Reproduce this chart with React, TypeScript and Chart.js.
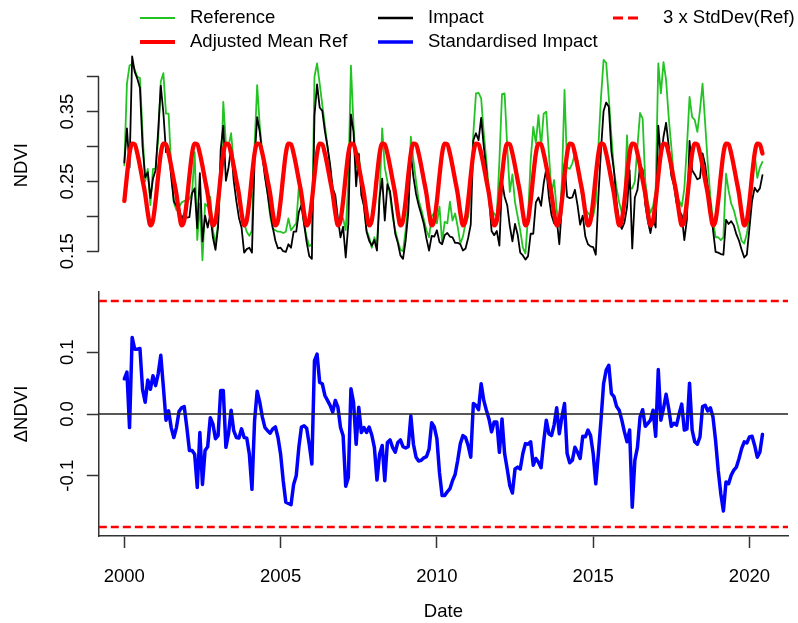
import React, { useEffect, useRef } from "react";
import { Chart, registerables } from "chart.js";

Chart.register(...registerables);

// ---------------- DATA (monthly, starting Jan 2000) ----------------
const START_YEAR = 2000;

const referenceNdvi = [
  0.273, 0.390, 0.416, 0.418, 0.410, 0.400, 0.398, 0.320, 0.250, 0.268, 0.216, 0.268,
  0.268, 0.310, 0.393, 0.405, 0.347, 0.347, 0.270, 0.220, 0.209, 0.213, 0.220, 0.222,
  0.221, 0.225, 0.233, 0.292, 0.166, 0.218, 0.137, 0.218, 0.214, 0.228, 0.180, 0.161,
  0.190, 0.252, 0.364, 0.304, 0.300, 0.319, 0.276, 0.247, 0.220, 0.205, 0.190, 0.178,
  0.172, 0.180, 0.300, 0.388, 0.330, 0.290, 0.260, 0.232, 0.200, 0.182, 0.180, 0.178,
  0.178, 0.176, 0.178, 0.197, 0.180, 0.185, 0.190, 0.242, 0.215, 0.190, 0.170, 0.157,
  0.160, 0.400, 0.419, 0.390, 0.360, 0.330, 0.300, 0.270, 0.235, 0.215, 0.190, 0.195,
  0.197, 0.180, 0.250, 0.416, 0.330, 0.270, 0.290, 0.247, 0.214, 0.180, 0.170, 0.155,
  0.170, 0.160, 0.230, 0.326, 0.270, 0.250, 0.230, 0.200, 0.180, 0.165, 0.152, 0.150,
  0.180, 0.220, 0.314, 0.280, 0.250, 0.223, 0.210, 0.195, 0.180, 0.170, 0.200, 0.205,
  0.190, 0.214, 0.163, 0.192, 0.190, 0.221, 0.194, 0.204, 0.185, 0.161, 0.171, 0.190,
  0.199, 0.237, 0.319, 0.376, 0.377, 0.369, 0.319, 0.280, 0.237, 0.209, 0.204, 0.199,
  0.280, 0.375, 0.376, 0.300, 0.235, 0.260, 0.220, 0.200, 0.180, 0.155, 0.147, 0.200,
  0.280, 0.328, 0.305, 0.345, 0.300, 0.347, 0.350, 0.290, 0.233, 0.252, 0.209, 0.185,
  0.250, 0.381, 0.270, 0.268, 0.276, 0.290, 0.280, 0.247, 0.223, 0.210, 0.205, 0.200,
  0.200, 0.220, 0.300, 0.370, 0.424, 0.420, 0.370, 0.315, 0.265, 0.240, 0.220, 0.205,
  0.220, 0.316, 0.240, 0.240, 0.250, 0.300, 0.348, 0.340, 0.250, 0.220, 0.205, 0.215,
  0.237, 0.419, 0.376, 0.421, 0.395, 0.342, 0.300, 0.256, 0.228, 0.223, 0.214, 0.240,
  0.300, 0.371, 0.342, 0.338, 0.321, 0.352, 0.390, 0.333, 0.276, 0.228, 0.195, 0.170,
  0.170, 0.166, 0.170, 0.261, 0.237, 0.218, 0.209, 0.194, 0.180, 0.165, 0.161, 0.175,
  0.200, 0.245, 0.290, 0.255, 0.270, 0.278,
];

const impactNdvi = [
  0.277, 0.326, 0.270, 0.429, 0.407, 0.397, 0.384, 0.300, 0.256, 0.263, 0.226, 0.254,
  0.266, 0.323, 0.387, 0.348, 0.292, 0.297, 0.256, 0.222, 0.215, 0.212, 0.196, 0.204,
  0.198, 0.199, 0.233, 0.240, 0.183, 0.262, 0.164, 0.201, 0.184, 0.202, 0.170, 0.152,
  0.185, 0.296, 0.330, 0.251, 0.270, 0.298, 0.251, 0.222, 0.198, 0.184, 0.148, 0.153,
  0.155, 0.148, 0.281, 0.342, 0.321, 0.287, 0.256, 0.233, 0.206, 0.184, 0.165, 0.154,
  0.155, 0.150, 0.149, 0.160, 0.155, 0.178, 0.178, 0.206, 0.216, 0.189, 0.163, 0.143,
  0.139, 0.344, 0.389, 0.356, 0.351, 0.322, 0.300, 0.274, 0.240, 0.230, 0.197, 0.170,
  0.185, 0.141, 0.189, 0.346, 0.321, 0.243, 0.289, 0.230, 0.215, 0.178, 0.165, 0.158,
  0.166, 0.151, 0.227, 0.254, 0.194, 0.246, 0.236, 0.206, 0.175, 0.162, 0.144, 0.139,
  0.165, 0.205, 0.289, 0.256, 0.232, 0.216, 0.203, 0.189, 0.168, 0.151, 0.172, 0.171,
  0.180, 0.163, 0.160, 0.173, 0.176, 0.171, 0.170, 0.162, 0.162, 0.160, 0.151, 0.154,
  0.169, 0.188, 0.309, 0.319, 0.309, 0.341, 0.300, 0.266, 0.229, 0.179, 0.173, 0.179,
  0.158, 0.250, 0.228, 0.216, 0.186, 0.164, 0.189, 0.174, 0.148, 0.144, 0.138, 0.143,
  0.175, 0.175, 0.220, 0.227, 0.215, 0.247, 0.268, 0.228, 0.202, 0.190, 0.196, 0.160,
  0.215, 0.275, 0.228, 0.226, 0.227, 0.238, 0.216, 0.188, 0.201, 0.171, 0.160, 0.157,
  0.156, 0.145, 0.228, 0.295, 0.351, 0.363, 0.357, 0.293, 0.265, 0.220, 0.192, 0.182,
  0.191, 0.213, 0.266, 0.154, 0.227, 0.238, 0.273, 0.267, 0.217, 0.193, 0.176, 0.198,
  0.184, 0.330, 0.282, 0.314, 0.334, 0.301, 0.258, 0.245, 0.219, 0.208, 0.202, 0.166,
  0.196, 0.308, 0.266, 0.260, 0.253, 0.255, 0.290, 0.274, 0.242, 0.218, 0.181, 0.149,
  0.148, 0.146, 0.145, 0.195, 0.189, 0.193, 0.187, 0.174, 0.165, 0.152, 0.141, 0.145,
  0.183, 0.222, 0.241, 0.235, 0.240, 0.259,
];

// Adjusted mean of the reference per calendar month (Jan..Dec), repeats every year
const meanRefCycle = [0.222, 0.258, 0.290, 0.304, 0.303, 0.290, 0.272, 0.252, 0.232, 0.205, 0.187, 0.194];

const standardisedImpact = [
  0.057, 0.068, -0.022, 0.124, 0.105, 0.105, 0.106, 0.040, 0.019, 0.055, 0.040, 0.062,
  0.046, 0.065, 0.095, 0.043, -0.010, 0.005, -0.022, -0.038, -0.022, 0.004, 0.010, 0.012,
  -0.022, -0.059, -0.059, -0.065, -0.119, -0.030, -0.114, -0.059, -0.053, -0.006, -0.016, -0.040,
  -0.035, 0.038, 0.038, -0.054, -0.032, 0.006, -0.027, -0.038, -0.039, -0.024, -0.038, -0.039,
  -0.065, -0.122, -0.011, 0.037, 0.019, -0.005, -0.022, -0.027, -0.031, -0.024, -0.021, -0.038,
  -0.065, -0.108, -0.143, -0.145, -0.147, -0.114, -0.100, -0.054, -0.021, -0.019, -0.023, -0.049,
  -0.081, 0.086, 0.097, 0.051, 0.049, 0.030, 0.022, 0.014, 0.003, 0.022, 0.011, -0.022,
  -0.035, -0.117, -0.103, 0.041, 0.019, -0.049, 0.011, -0.030, -0.022, -0.030, -0.021, -0.034,
  -0.054, -0.107, -0.065, -0.051, -0.108, -0.046, -0.042, -0.054, -0.062, -0.046, -0.042, -0.053,
  -0.055, -0.053, -0.003, -0.049, -0.070, -0.076, -0.075, -0.071, -0.069, -0.057, -0.014, -0.021,
  -0.040, -0.095, -0.132, -0.132, -0.126, -0.121, -0.108, -0.098, -0.075, -0.048, -0.035, -0.038,
  -0.051, -0.070, 0.017, 0.014, 0.007, 0.049, 0.022, 0.006, -0.008, -0.029, -0.013, -0.013,
  -0.062, -0.008, -0.064, -0.089, -0.116, -0.128, -0.089, -0.086, -0.089, -0.064, -0.048, -0.049,
  -0.045, -0.083, -0.072, -0.078, -0.087, -0.045, -0.010, -0.032, -0.035, -0.018, 0.010, -0.032,
  -0.005, 0.017, -0.064, -0.079, -0.075, -0.054, -0.062, -0.072, -0.036, -0.037, -0.026, -0.035,
  -0.064, -0.113, -0.064, -0.010, 0.049, 0.071, 0.079, 0.033, 0.028, 0.012, 0.006, -0.010,
  -0.029, -0.045, -0.026, -0.151, -0.075, -0.054, -0.005, 0.007, -0.020, -0.015, -0.010, 0.006,
  -0.036, 0.072, -0.010, 0.009, 0.032, 0.009, -0.020, -0.015, -0.018, 0.000, 0.016, -0.026,
  -0.024, 0.050, -0.026, -0.045, -0.049, -0.037, 0.012, 0.014, 0.005, 0.010, -0.005, -0.043,
  -0.091, -0.129, -0.157, -0.110, -0.113, -0.099, -0.091, -0.086, -0.072, -0.056, -0.045, -0.047,
  -0.037, -0.036, -0.051, -0.070, -0.062, -0.033,
];

const stdDevLimit = 0.183;
const yearTicks = [2000, 2005, 2010, 2015, 2020];
const ndviTicks = [0.15, 0.2, 0.25, 0.3, 0.35, 0.4];
const ndviLabelled = [0.15, 0.25, 0.35];
const deltaTicks = [-0.1, 0, 0.1];

// ---------------- STYLE ----------------
const FONT_FAMILY = "'Liberation Sans', Arial, Helvetica, sans-serif";
const FONT_SIZE = 18.5;
const GREEN = "#22c322";
const RED = "#ff0000";
const BLUE = "#0000ff";
const BLACK = "#000000";
const AXIS = "#333333";

const W = 798;
const TOP_H = 290;
const BOTTOM_H = 333;
const PLOT_LEFT = 98.8;
const PLOT_RIGHT = 788;

const months = standardisedImpact.map((_, i) => START_YEAR + i / 12);
const span = months[months.length - 1] - months[0];
const X_MIN = months[0] - 0.04 * span;
const X_MAX = months[months.length - 1] + 0.04 * span;

const adjustedMeanRef = months.map((_, i) => meanRefCycle[i % 12]);
const toPoints = (vals: number[]) => vals.map((y, i) => ({ x: months[i], y }));

const font = { family: FONT_FAMILY, size: FONT_SIZE };

const legendEntries = [
  { label: "Reference", color: GREEN, width: 2, dash: [] as number[], col: 0, row: 0 },
  { label: "Adjusted Mean Ref", color: RED, width: 4, dash: [] as number[], col: 0, row: 1 },
  { label: "Impact", color: BLACK, width: 2.5, dash: [] as number[], col: 1, row: 0 },
  { label: "Standardised Impact", color: BLUE, width: 3.5, dash: [] as number[], col: 1, row: 1 },
  { label: "3 x StdDev(Ref)", color: RED, width: 3, dash: [10, 5], col: 2, row: 0 },
];
const legendCols = [
  { lineX: 140, lineLen: 35, textX: 190 },
  { lineX: 378, lineLen: 35, textX: 428 },
  { lineX: 613, lineLen: 25, textX: 663 },
];
const legendRows = [18, 42];

const legendPlugin = {
  id: "customLegend",
  afterDraw(chart: any) {
    const ctx = chart.ctx;
    ctx.save();
    legendEntries.forEach((e) => {
      const c = legendCols[e.col];
      const y = legendRows[e.row];
      ctx.beginPath();
      ctx.strokeStyle = e.color;
      ctx.lineWidth = e.width;
      ctx.setLineDash(e.dash);
      ctx.moveTo(c.lineX, y);
      ctx.lineTo(c.lineX + c.lineLen, y);
      ctx.stroke();
      ctx.setLineDash([]);
      ctx.fillStyle = BLACK;
      ctx.font = `${FONT_SIZE}px ${FONT_FAMILY}`;
      ctx.textBaseline = "middle";
      ctx.textAlign = "left";
      ctx.fillText(e.label, c.textX, y);
    });
    ctx.restore();
  },
};

const partialAxisPlugin = {
  id: "partialAxis",
  afterDraw(chart: any) {
    const ys = chart.scales.y;
    const ctx = chart.ctx;
    const x = Math.round(chart.chartArea.left) - 0.5;
    ctx.save();
    ctx.strokeStyle = AXIS;
    ctx.lineWidth = 1.5;
    ctx.beginPath();
    ctx.moveTo(x, ys.getPixelForValue(ndviTicks[0]));
    ctx.lineTo(x, ys.getPixelForValue(ndviTicks[ndviTicks.length - 1]));
    ctx.stroke();
    ctx.restore();
  },
};

const fitWidth = (s: any) => {
  s.width = PLOT_LEFT;
  s.paddingTop = 0;
  s.paddingBottom = 0;
  s.paddingLeft = 0;
  s.paddingRight = 0;
};

function topConfig(): any {
  return {
    type: "line",
    data: {
      datasets: [
        { label: "Reference", data: toPoints(referenceNdvi), borderColor: GREEN, borderWidth: 1.8, order: 3 },
        { label: "Impact", data: toPoints(impactNdvi), borderColor: BLACK, borderWidth: 1.8, order: 2 },
        {
          label: "Adjusted Mean Ref",
          data: toPoints(adjustedMeanRef),
          borderColor: RED,
          borderWidth: 4.3,
          cubicInterpolationMode: "monotone",
          order: 1,
        },
      ],
    },
    options: {
      responsive: false,
      animation: false,
      devicePixelRatio: 1,
      layout: { padding: { left: 0, right: W - PLOT_RIGHT, top: 48.3, bottom: 8 } },
      elements: {
        point: { radius: 0 },
        line: { borderCapStyle: "round", borderJoinStyle: "round", fill: false },
      },
      plugins: { legend: { display: false }, tooltip: { enabled: false } },
      scales: {
        x: { type: "linear", display: false, min: X_MIN, max: X_MAX },
        y: {
          type: "linear",
          position: "left",
          min: 0.1059,
          max: 0.4407,
          afterFit: fitWidth,
          afterBuildTicks: (s: any) => {
            s.ticks = ndviTicks.map((v) => ({ value: v }));
          },
          ticks: {
            autoSkip: false,
            minRotation: 90,
            maxRotation: 90,
            crossAlign: "center",
            padding: 1,
            color: BLACK,
            font,
            callback: (v: any) =>
              ndviLabelled.some((l) => Math.abs(l - Number(v)) < 1e-9) ? Number(v).toFixed(2) : "",
          },
          grid: { display: true, drawOnChartArea: false, drawTicks: true, tickLength: 12, tickWidth: 1.5, tickColor: AXIS },
          border: { display: false },
          title: { display: true, text: "NDVI", color: BLACK, font, padding: { top: 11, bottom: 0 } },
        },
      },
    },
    plugins: [partialAxisPlugin, legendPlugin],
  };
}

function bottomConfig(): any {
  const hLine = (y: number) => [
    { x: X_MIN, y },
    { x: X_MAX, y },
  ];
  return {
    type: "line",
    data: {
      datasets: [
        { label: "Standardised Impact", data: toPoints(standardisedImpact), borderColor: BLUE, borderWidth: 3.5, order: 3 },
        { label: "zero", data: hLine(0), borderColor: "#222222", borderWidth: 1.5, order: 1 },
        { label: "3 x StdDev(Ref)", data: hLine(stdDevLimit), borderColor: RED, borderWidth: 2.5, borderDash: [8, 4], borderCapStyle: "butt", order: 2 },
        { label: "-3 x StdDev(Ref)", data: hLine(-stdDevLimit), borderColor: RED, borderWidth: 2.5, borderDash: [8, 4], borderCapStyle: "butt", order: 2 },
      ],
    },
    options: {
      responsive: false,
      animation: false,
      devicePixelRatio: 1,
      layout: { padding: { left: 0, right: W - PLOT_RIGHT, top: 2, bottom: 0 } },
      elements: {
        point: { radius: 0 },
        line: { borderCapStyle: "round", borderJoinStyle: "round", fill: false },
      },
      plugins: { legend: { display: false }, tooltip: { enabled: false } },
      scales: {
        x: {
          type: "linear",
          position: "bottom",
          min: X_MIN,
          max: X_MAX,
          afterFit: (s: any) => {
            s.height = 87;
            s.paddingTop = 0;
            s.paddingBottom = 0;
            s.paddingLeft = 0;
            s.paddingRight = 0;
          },
          afterBuildTicks: (s: any) => {
            s.ticks = yearTicks.map((v) => ({ value: v }));
          },
          ticks: { autoSkip: false, maxRotation: 0, padding: 18, color: BLACK, font, callback: (v: any) => String(v) },
          grid: { display: true, drawOnChartArea: false, drawTicks: true, tickLength: 12, tickWidth: 1.5, tickColor: AXIS },
          border: { display: true, color: AXIS, width: 1.5 },
          title: { display: true, text: "Date", color: BLACK, font, padding: { top: 0, bottom: 0 } },
        },
        y: {
          type: "linear",
          position: "left",
          min: -0.1976,
          max: 0.1976,
          afterFit: fitWidth,
          afterBuildTicks: (s: any) => {
            s.ticks = deltaTicks.map((v) => ({ value: v }));
          },
          ticks: {
            autoSkip: false,
            minRotation: 90,
            maxRotation: 90,
            crossAlign: "center",
            padding: 3,
            color: BLACK,
            font,
            callback: (v: any) => Number(v).toFixed(1),
          },
          grid: { display: true, drawOnChartArea: false, drawTicks: true, tickLength: 12, tickWidth: 1.5, tickColor: AXIS },
          border: { display: true, color: AXIS, width: 1.5 },
          title: { display: true, text: "ΔNDVI", color: BLACK, font, padding: { top: 11, bottom: 0 } },
        },
      },
    },
  };
}

export default function App() {
  const topRef = useRef<HTMLCanvasElement>(null);
  const bottomRef = useRef<HTMLCanvasElement>(null);

  useEffect(() => {
    const top = new Chart(topRef.current as HTMLCanvasElement, topConfig());
    const bottom = new Chart(bottomRef.current as HTMLCanvasElement, bottomConfig());
    return () => {
      top.destroy();
      bottom.destroy();
    };
  }, []);

  return (
    <div style={{ position: "absolute", left: 0, top: 0, width: W, height: TOP_H + BOTTOM_H, background: "#ffffff" }}>
      <canvas ref={topRef} width={W} height={TOP_H} style={{ position: "absolute", left: 0, top: 0 }} />
      <canvas ref={bottomRef} width={W} height={BOTTOM_H} style={{ position: "absolute", left: 0, top: TOP_H }} />
    </div>
  );
}
